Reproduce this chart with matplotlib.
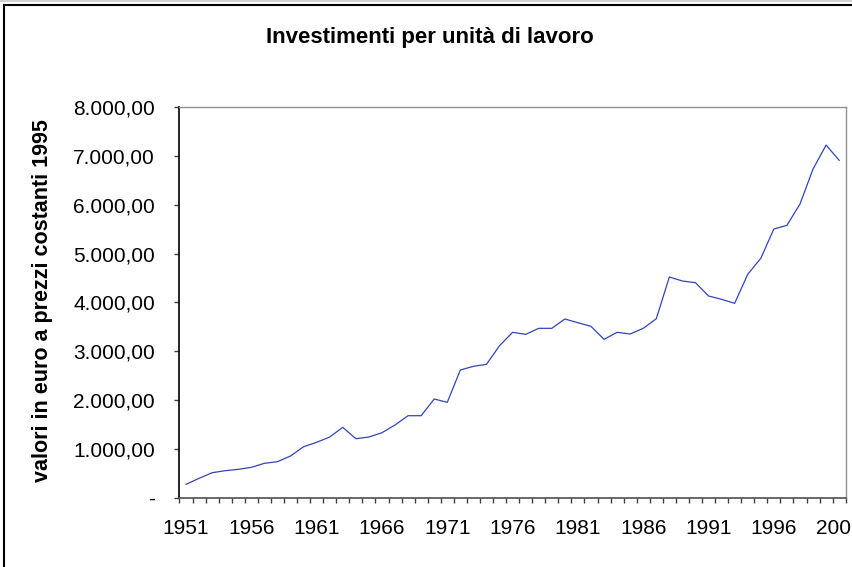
import matplotlib.pyplot as plt
from matplotlib.lines import Line2D
from matplotlib.ticker import FuncFormatter

plt.rcParams['font.family'] = ['Liberation Sans', 'DejaVu Sans']

# Investimenti per unita' di lavoro, euro a prezzi costanti 1995
years = list(range(1951, 2002))
values = [
    274, 397, 512, 553, 581, 622, 704, 737, 854, 1044,
    1134, 1243, 1441, 1208, 1243, 1331, 1489, 1679, 1679, 2021,
    1953, 2615, 2690, 2731, 3112, 3386, 3345, 3468, 3468, 3659,
    3583, 3509, 3243, 3386, 3352, 3468, 3665, 4519, 4437, 4402,
    4130, 4062, 3980, 4574, 4902, 5502, 5577, 6013, 6730, 7221,
    6908,
]
year_labels = [str(y) for y in years[::5]]
yticks = [0, 1000, 2000, 3000, 4000, 5000, 6000, 7000, 8000]


def it_format(v, pos):
    # Italian-style numbers, zero shown as a dash (Excel accounting style)
    if v == 0:
        return '-'
    s = f"{v:,.2f}"
    return s.replace(',', 'X').replace('.', ',').replace('X', '.')


W, H = 853, 567
fig = plt.figure(figsize=(W / 100, H / 100), dpi=100)
ax = fig.add_axes([179.5 / W, 1 - 497.7 / H, (845.7 - 179.5) / W, (497.7 - 107) / H])

x = list(range(len(years)))
ax.plot(x, values, color='#3344bb', linewidth=0.9)

ax.set_xlim(-0.5, len(years) - 0.5)
ax.set_ylim(0, 8000)

# year labels at category centres, ticks between categories
ax.set_xticks(x[::5])
ax.set_xticklabels(year_labels)
ax.set_xticks([i - 0.5 for i in range(len(years) + 1)], minor=True)
ax.tick_params(axis='x', which='major', length=0, pad=15, labelsize=15)
ax.tick_params(axis='x', which='minor', length=3.6, width=1, color='#404040', direction='out')

ax.set_yticks(yticks)
ax.yaxis.set_major_formatter(FuncFormatter(it_format))
ax.tick_params(axis='y', length=3.6, width=1, color='#404040', pad=14, labelsize=15)

ax.spines['left'].set_color('black')
ax.spines['left'].set_linewidth(1.2)
ax.spines['bottom'].set_color('#505050')
ax.spines['bottom'].set_linewidth(1.2)
ax.spines['top'].set_color('#909090')
ax.spines['right'].set_color('#909090')
ax.spines['top'].set_linewidth(1)
ax.spines['right'].set_linewidth(1)

fig.text(430 / W, 1 - 38 / H, 'Investimenti per unità di lavoro',
         ha='center', va='center', fontsize=16, fontweight='bold')
fig.text(43 / W, 1 - 301 / H, 'valori in euro a prezzi costanti 1995',
         ha='center', va='center', rotation=90, fontsize=15.5, fontweight='bold')

# outer chart frame (only top and left edges are inside the picture)
fig.add_artist(Line2D([4.5 / W, 4.5 / W], [0, 1 - 4.5 / H], transform=fig.transFigure,
                      color='black', linewidth=1.5))
fig.add_artist(Line2D([4.5 / W, 1], [1 - 4.5 / H, 1 - 4.5 / H], transform=fig.transFigure,
                      color='black', linewidth=1.5))
fig.add_artist(Line2D([0, 1], [1 - 0.8 / H, 1 - 0.8 / H], transform=fig.transFigure,
                      color='#c8c8c8', linewidth=1.2))

fig.savefig('out.png', dpi=100)
